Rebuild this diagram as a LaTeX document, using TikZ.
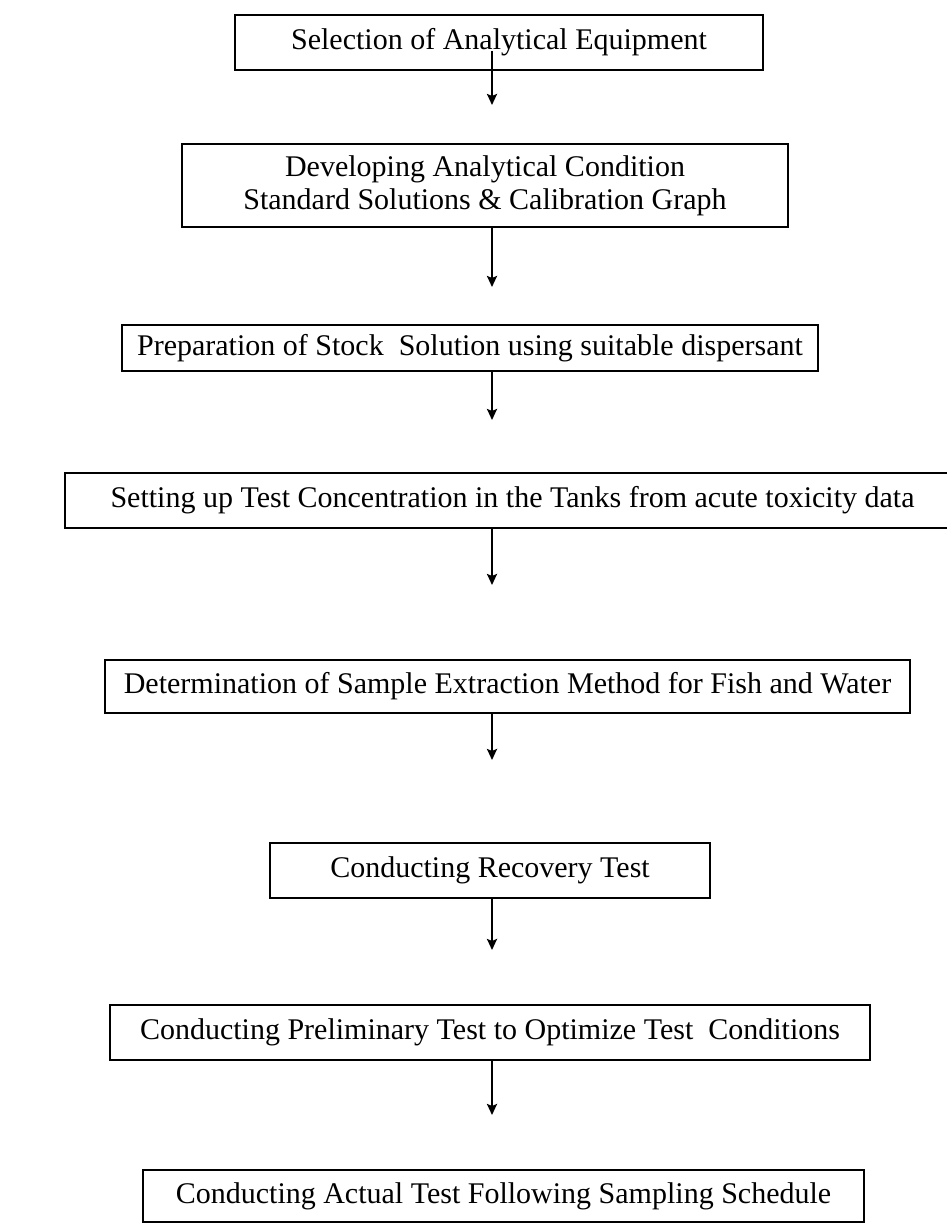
\documentclass[tikz,border=0pt]{standalone}
\usepackage{fontspec}
\setmainfont{Liberation Serif}
\usetikzlibrary{arrows.meta}
\begin{document}
\begin{tikzpicture}[x=1pt,y=-1pt,
  box/.style={draw=black, line width=1.6pt, inner sep=0pt, align=center,
    font=\fontsize{30}{33}\selectfont},
  arr/.style={line width=2.4pt, -{Stealth[length=11pt,width=10pt,inset=2pt]}}]
\useasboundingbox (0,0) rectangle (947,1224);
\fill[white] (0,0) rectangle (947,1224);
% boxes
\node[box, minimum width=528pt, minimum height=55pt] (b1) at (499,42.5) {Selection of Analytical Equipment};
\node[box, minimum width=606pt, minimum height=83pt] (b2) at (485,185.5) {Developing Analytical Condition\\Standard Solutions \& Calibration Graph};
\node[box, minimum width=696pt, minimum height=46pt] (b3) at (470,348) {Preparation of Stock\ \ Solution using suitable dispersant};
\node[box, minimum width=895pt, minimum height=55pt] (b4) at (512.5,500.5) {Setting up Test Concentration in the Tanks from acute toxicity data};
\node[box, minimum width=805pt, minimum height=53pt] (b5) at (507.5,686.5) {Determination of Sample Extraction Method for Fish and Water};
\node[box, minimum width=440pt, minimum height=55pt] (b6) at (490,870.5) {Conducting Recovery Test};
\node[box, minimum width=760pt, minimum height=55pt] (b7) at (490,1032.5) {Conducting Preliminary Test to Optimize Test\ \ Conditions};
\node[box, minimum width=721pt, minimum height=52pt] (b8) at (503.5,1196) {Conducting Actual Test Following Sampling Schedule};
% arrow ends
\coordinate (t1) at (492,105);
\coordinate (t2) at (492,287);
\coordinate (t3) at (492,420);
\coordinate (t4) at (492,585);
\coordinate (t5) at (492,760);
\coordinate (t6) at (492,950);
\coordinate (t7) at (492,1115);
\path (b1.south -| t1) coordinate (s1);
\path (b2.south -| t2) coordinate (s2);
\path (b3.south -| t3) coordinate (s3);
\path (b4.south -| t4) coordinate (s4);
\path (b5.south -| t5) coordinate (s5);
\path (b6.south -| t6) coordinate (s6);
\path (b7.south -| t7) coordinate (s7);
\draw[arr] ([yshift=20pt]s1) -- (t1);
\draw[arr] (s2) -- (t2);
\draw[arr] (s3) -- (t3);
\draw[arr] (s4) -- (t4);
\draw[arr] (s5) -- (t5);
\draw[arr] (s6) -- (t6);
\draw[arr] (s7) -- (t7);
\end{tikzpicture}
\end{document}
